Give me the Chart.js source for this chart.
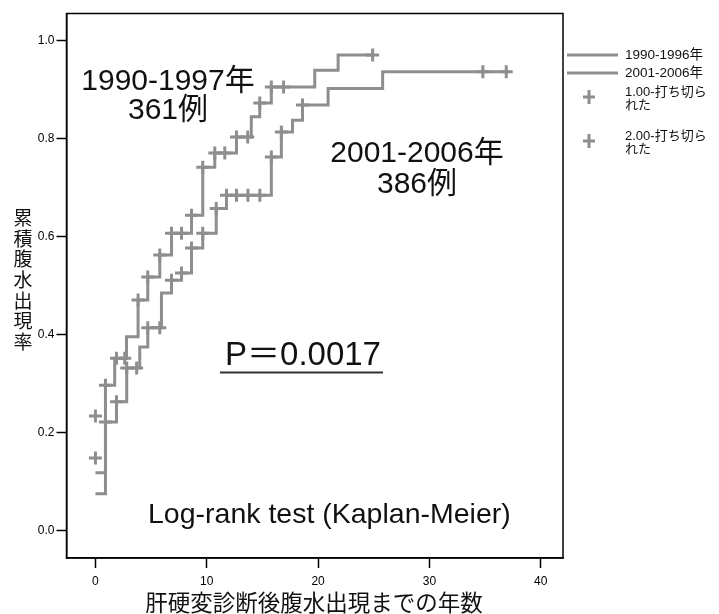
<!DOCTYPE html>
<html>
<head>
<meta charset="utf-8">
<script src="https://cdn.jsdelivr.net/npm/chart.js@4/dist/chart.umd.min.js"></script>
<style>
  html, body { margin: 0; padding: 0; background: #fff; }
  #wrap { width: 719px; height: 614px; }
</style>
</head>
<body>
<div id="wrap"><canvas id="km" width="719" height="614"></canvas></div>
<script>
// Kaplan-Meier cumulative incidence of ascites, two diagnosis periods.
// Each step: year at which the curve jumps, and the new cumulative rate.
const group1Label = '1990-1996年';
const group1StepYears = [0, 0.9, 1.73, 2.79, 3.83, 4.7, 5.78, 6.83, 8.63, 9.64, 10.72, 12.67, 14.0, 14.76, 15.8, 19.7, 21.8, 24.9];
const group1StepRates = [0.118, 0.297, 0.352, 0.396, 0.471, 0.518, 0.563, 0.607, 0.644, 0.742, 0.771, 0.804, 0.845, 0.873, 0.906, 0.940, 0.971, 0.971];
const group1CensorYears = [0.9, 1.89, 2.63, 3.83, 4.7, 5.78, 6.83, 7.73, 8.63, 9.64, 10.72, 11.62, 12.67, 13.68, 14.76, 15.8, 16.9, 24.9];

const group2Label = '2001-2006年';
const group2StepYears = [0, 0.9, 1.89, 2.81, 3.98, 4.7, 5.93, 6.83, 7.73, 8.63, 9.64, 10.85, 11.77, 15.8, 16.7, 17.7, 18.6, 20.9, 25.8, 37.2];
const group2StepRates = [0.075, 0.222, 0.263, 0.332, 0.375, 0.414, 0.485, 0.511, 0.526, 0.577, 0.607, 0.658, 0.685, 0.763, 0.814, 0.838, 0.869, 0.903, 0.937, 0.937];
const group2CensorYears = [0.9, 1.89, 2.81, 3.7, 4.7, 5.78, 6.83, 7.73, 8.63, 9.64, 10.85, 11.77, 12.67, 13.7, 14.77, 15.8, 16.7, 18.6, 34.8, 36.9];

// censored marks sitting at time zero
const zeroCensorRates = [0.234, 0.148];

const xTicks = [0, 10, 20, 30, 40];
const yTicks = [0.0, 0.2, 0.4, 0.6, 0.8, 1.0];

const LINE = '#8e8e8e';
const LATIN = '"Liberation Sans", Arial, "Noto Sans CJK JP", sans-serif';
const CJK = '"Noto Sans CJK JP", "Liberation Sans", sans-serif';

function stepPoints(years, rates) {
  return years.map((x, i) => ({ x, y: rates[i] }));
}
// rate of the step curve at a given year
function rateAt(years, rates, t) {
  let r = rates[0];
  for (let i = 0; i < years.length; i++) if (years[i] <= t + 1e-9) r = rates[i];
  return r;
}
function censorPoints(years, stepYears, stepRates) {
  return years.map(t => ({ x: t, y: rateAt(stepYears, stepRates, t) }));
}

const lineStyle = {
  showLine: true, stepped: 'before', borderColor: LINE, borderWidth: 3,
  pointRadius: 0, pointHoverRadius: 0, fill: false
};
const crossStyle = {
  showLine: false, pointStyle: 'cross', pointRadius: 6.5, pointHoverRadius: 6.5,
  pointBorderWidth: 3, borderColor: LINE, backgroundColor: LINE
};

const overlay = {
  id: 'overlay',
  afterDraw(chart) {
    const { ctx, chartArea: a } = chart;
    ctx.save();
    // plot frame
    ctx.strokeStyle = '#000';
    ctx.lineWidth = 1.5;
    ctx.strokeRect(a.left, a.top, a.right - a.left, a.bottom - a.top);

    ctx.fillStyle = '#111';
    ctx.textAlign = 'center';
    ctx.textBaseline = 'alphabetic';
    ctx.font = '30px ' + LATIN;
    ctx.fillText('1990-1997年', 168, 90);
    ctx.fillText('361例', 168, 119);
    ctx.fillText('2001-2006年', 417, 162);
    ctx.fillText('386例', 417, 193);

    ctx.font = '33px ' + LATIN;
    ctx.fillText('P＝0.0017', 303, 365);
    ctx.strokeStyle = '#333';
    ctx.lineWidth = 2;
    ctx.beginPath();
    ctx.moveTo(220, 372.5); ctx.lineTo(383, 372.5);
    ctx.stroke();

    ctx.textAlign = 'left';
    ctx.font = '28.5px ' + LATIN;
    ctx.fillText('Log-rank test (Kaplan-Meier)', 148, 523);

    // y-axis title, characters stacked vertically
    ctx.textAlign = 'center';
    ctx.textBaseline = 'middle';
    ctx.font = '19px ' + CJK;
    const yTitle = '累積腹水出現率';
    [...yTitle].forEach((ch, i) => ctx.fillText(ch, 23, 218 + i * 20.6));

    // x-axis title
    ctx.font = '22.5px ' + CJK;
    ctx.fillText('肝硬変診断後腹水出現までの年数', 314, 602);

    // legend
    ctx.strokeStyle = LINE;
    ctx.lineWidth = 3;
    [[55, group1Label], [73, group2Label]].forEach(([y, t]) => {
      ctx.beginPath(); ctx.moveTo(567, y); ctx.lineTo(618, y); ctx.stroke();
      ctx.textAlign = 'left';
      ctx.font = '13.5px ' + LATIN;
      ctx.fillText(t, 625, y);
    });
    [[97, '1.00-打ち切ら'], [141, '2.00-打ち切ら']].forEach(([y, t]) => {
      ctx.beginPath();
      ctx.moveTo(589, y - 7); ctx.lineTo(589, y + 7);
      ctx.moveTo(583, y); ctx.lineTo(595, y);
      ctx.stroke();
      ctx.font = '13px ' + LATIN;
      ctx.fillText(t, 625, y - 5);
      ctx.fillText('れた', 625, y + 8);
    });
    ctx.restore();
  }
};

new Chart(document.getElementById('km'), {
  type: 'scatter',
  data: {
    datasets: [
      { label: group1Label, data: stepPoints(group1StepYears, group1StepRates), ...lineStyle },
      { label: group2Label, data: stepPoints(group2StepYears, group2StepRates), ...lineStyle },
      { label: '1.00-打ち切られた', data: censorPoints(group1CensorYears, group1StepYears, group1StepRates).concat([{ x: 0, y: zeroCensorRates[0] }]), ...crossStyle },
      { label: '2.00-打ち切られた', data: censorPoints(group2CensorYears, group2StepYears, group2StepRates).concat([{ x: 0, y: zeroCensorRates[1] }]), ...crossStyle }
    ]
  },
  options: {
    responsive: false,
    animation: false,
    layout: { padding: { top: 13.5, right: 156, bottom: 0, left: 0 } },
    plugins: { legend: { display: false }, tooltip: { enabled: false } },
    scales: {
      x: {
        type: 'linear', min: -2.6, max: 42,
        afterBuildTicks: s => { s.ticks = xTicks.map(v => ({ value: v })); },
        afterFit: s => { s.height = 56; },
        ticks: { color: '#000', font: { size: 12, family: LATIN }, padding: 6, maxRotation: 0, callback: v => String(v) },
        grid: { drawOnChartArea: false, drawTicks: true, tickLength: 10, tickColor: '#000', tickWidth: 1.5 },
        border: { display: true, color: '#000', width: 1.5 }
      },
      y: {
        type: 'linear', min: -0.056, max: 1.056,
        afterBuildTicks: s => { s.ticks = yTicks.map(v => ({ value: v })); },
        afterFit: s => { s.width = 66.5; },
        ticks: { color: '#000', font: { size: 12, family: LATIN }, padding: 2, callback: v => Number(v).toFixed(1) },
        grid: { drawOnChartArea: false, drawTicks: true, tickLength: 10, tickColor: '#000', tickWidth: 1.5 },
        border: { display: true, color: '#000', width: 1.5 }
      }
    }
  },
  plugins: [overlay]
});
</script>
</body>
</html>
